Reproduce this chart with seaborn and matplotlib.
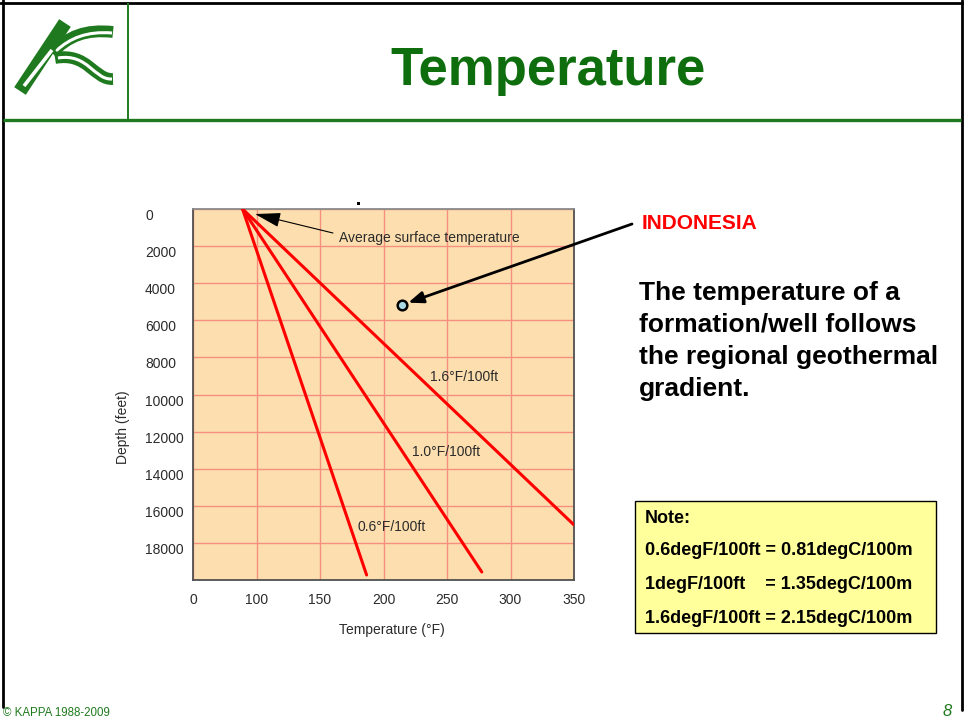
import numpy as np
import pandas as pd
import matplotlib
matplotlib.use("Agg")
import matplotlib.pyplot as plt
import seaborn as sns
from matplotlib.patches import Rectangle, PathPatch
from matplotlib.path import Path

# ---------------- data ----------------
gradient_labels = ["0.6°F/100ft", "1.0°F/100ft", "1.6°F/100ft"]
surface_temp_f = 78.0
surface_depth_ft = 0.0
end_temp_f = [186.7, 277.4, 350.0]
end_depth_ft = [19730, 19570, 17030]
label_temp_f = [179.9, 222.4, 236.6]
label_depth_ft = [17140, 13100, 9057]
indonesia_temp_f = [214.3]
indonesia_depth_ft = [5175]
x_ticks = [0, 100, 150, 200, 250, 300, 350]
y_ticks = [0, 2000, 4000, 6000, 8000, 10000, 12000, 14000, 16000, 18000]
statement_lines = ["The temperature of a", "formation/well follows",
                   "the regional geothermal", "gradient."]
note_lines = ["Note:", "0.6degF/100ft = 0.81degC/100m",
              "1degF/100ft    = 1.35degC/100m", "1.6degF/100ft = 2.15degC/100m"]

rows = []
for lab, t1, d1 in zip(gradient_labels, end_temp_f, end_depth_ft):
    rows.append((lab, surface_temp_f, surface_depth_ft))
    rows.append((lab, t1, d1))
df = pd.DataFrame(rows, columns=["gradient", "temp", "depth"])
pt_df = pd.DataFrame({"temp": indonesia_temp_f, "depth": indonesia_depth_ft})

# ---------------- style ----------------
sns.set_style("white")
plt.rcParams["font.family"] = ["Liberation Sans", "DejaVu Sans"]

GREEN_T = "#0E6E0E"
GREEN_L = "#1F7A1F"
TXT = "#2b2b2b"

fig = plt.figure(figsize=(9.64, 7.21), dpi=100)

# overlay in pixel coordinates for slide decoration
ov = fig.add_axes([0, 0, 1, 1], zorder=0)
ov.set_xlim(0, 964)
ov.set_ylim(721, 0)
ov.axis("off")

# slide frame
ov.plot([3, 3], [0, 707], color="black", lw=2.0)
ov.plot([0, 964], [2.5, 2.5], color="black", lw=2.0)
ov.plot([961.5, 961.5], [0, 710], color="black", lw=2.0)
ov.plot([3, 961], [119.5, 119.5], color=GREEN_L, lw=2.4, solid_capstyle="butt")
ov.plot([127.5, 127.5], [3, 119], color=GREEN_L, lw=1.4, solid_capstyle="butt")

# logo (stylised K)
ov.plot([20, 65], [91, 23], color=GREEN_L, lw=10, solid_capstyle="butt")
ov.plot([24, 52], [86, 50], color="white", lw=2.6, solid_capstyle="butt")
up = Path([(52, 53), (68, 36), (86, 29), (113, 32)],
          [Path.MOVETO, Path.CURVE4, Path.CURVE4, Path.CURVE4])
ov.add_patch(PathPatch(up, fill=False, edgecolor=GREEN_L, lw=8.5, capstyle="butt"))
up_w = Path([(56, 51), (70, 38), (87, 31), (112, 33)],
            [Path.MOVETO, Path.CURVE4, Path.CURVE4, Path.CURVE4])
ov.add_patch(PathPatch(up_w, fill=False, edgecolor="white", lw=2.2, capstyle="butt"))
lo = Path([(55, 58), (88, 52), (94, 80), (113, 79)],
          [Path.MOVETO, Path.CURVE4, Path.CURVE4, Path.CURVE4])
ov.add_patch(PathPatch(lo, fill=False, edgecolor=GREEN_L, lw=8.5, capstyle="butt"))
lo_w = Path([(58, 58), (88, 53), (94, 80), (112, 79)],
            [Path.MOVETO, Path.CURVE4, Path.CURVE4, Path.CURVE4])
ov.add_patch(PathPatch(lo_w, fill=False, edgecolor="white", lw=2.2, capstyle="butt"))

# title
ov.text(548, 85, "Temperature", ha="center", va="baseline", fontsize=38,
        fontweight="bold", color=GREEN_T)

# right-hand text
ov.text(642, 229, "INDONESIA", ha="left", va="baseline", fontsize=15,
        fontweight="bold", color="#FF0000")
for txt, yb in zip(statement_lines, [300, 332, 364, 396]):
    ov.text(639, yb, txt, ha="left", va="baseline", fontsize=19,
            fontweight="bold", color="black")

# note box
ov.add_patch(Rectangle((634.5, 500.5), 301, 132, facecolor="#FFFF9C",
                       edgecolor="black", lw=1.0))
for txt, yb in zip(note_lines, [523, 555, 589, 623]):
    ov.text(645, yb, txt, ha="left", va="baseline", fontsize=13,
            fontweight="bold", color="black")

# footer
ov.text(3, 713, "© KAPPA 1988-2009", ha="left", va="center", fontsize=8.3,
        color=GREEN_L)
ov.text(952, 711, "8", ha="right", va="center", fontsize=12, style="italic",
        color=GREEN_L)
ov.add_patch(Rectangle((356.5, 201.5), 3, 3, facecolor="black", edgecolor="none"))

# ---------------- chart ----------------
ax = fig.add_axes([193 / 964, 1 - 580 / 721, 381 / 964, 371 / 721], zorder=1)


def fwd(x):
    x = np.asarray(x, dtype=float)
    return np.where(x < 100, x / 2.0, x - 50.0)


def inv(y):
    y = np.asarray(y, dtype=float)
    return np.where(y < 50, y * 2.0, y + 50.0)


ax.set_xscale("function", functions=(fwd, inv))
ax.set_facecolor("#FDDFAF")

sns.lineplot(data=df, x="temp", y="depth", hue="gradient",
             palette=["#FF0000"] * len(gradient_labels), estimator=None,
             sort=False, legend=False, lw=2.2, ax=ax, zorder=3)
sns.scatterplot(data=pt_df, x="temp", y="depth", s=48, color="#A9D9E3",
                edgecolor="black", linewidth=1.8, ax=ax, zorder=5)

ax.set_xlim(0, 350)
ax.set_ylim(20000, 0)
ax.set_xticks(x_ticks)
ax.set_xticklabels([str(v) for v in x_ticks])
ax.set_yticks(y_ticks)
ax.set_yticklabels([str(v) for v in y_ticks])
ax.grid(True, color="#F5907F", lw=1.0)
ax.set_axisbelow(True)
ax.tick_params(axis="both", length=0, labelsize=10, labelcolor=TXT)
ax.tick_params(axis="x", pad=9)
ax.tick_params(axis="y", pad=34.5)
plt.setp(ax.get_yticklabels(), ha="left", va="top")

for s in ax.spines.values():
    s.set_color("#505050")
    s.set_linewidth(1.3)
ax.spines["top"].set_color("#8a8a8a")

ax.set_xlabel("Temperature (°F)", fontsize=10, color=TXT)
ax.set_ylabel("Depth (feet)", fontsize=10, color=TXT)
ax.xaxis.set_label_coords(0.522, -0.116)
ax.yaxis.set_label_coords(-0.165, 0.412)

for lab, t, d in zip(gradient_labels, label_temp_f, label_depth_ft):
    ax.text(t, d, lab, ha="left", va="center", fontsize=10, color=TXT, zorder=4)

ax.text(165, 1563, "Average surface temperature", ha="left", va="center",
        fontsize=10, color=TXT)
ax.annotate("", xy=(97.6, 270), xytext=(160.2, 1294),
            arrowprops=dict(arrowstyle="-|>,head_length=1.6,head_width=0.45",
                            color="black", lw=0.8, shrinkA=0, shrinkB=0),
            annotation_clip=False, zorder=6)

ax.annotate("", xy=(indonesia_temp_f[0], indonesia_depth_ft[0]),
            xytext=(632, 721 - 224), textcoords="figure pixels",
            arrowprops=dict(arrowstyle="-|>,head_length=0.9,head_width=0.35",
                            color="black", lw=2.0, shrinkA=0, shrinkB=5),
            annotation_clip=False, zorder=6)

fig.savefig("out.png", dpi=100)
